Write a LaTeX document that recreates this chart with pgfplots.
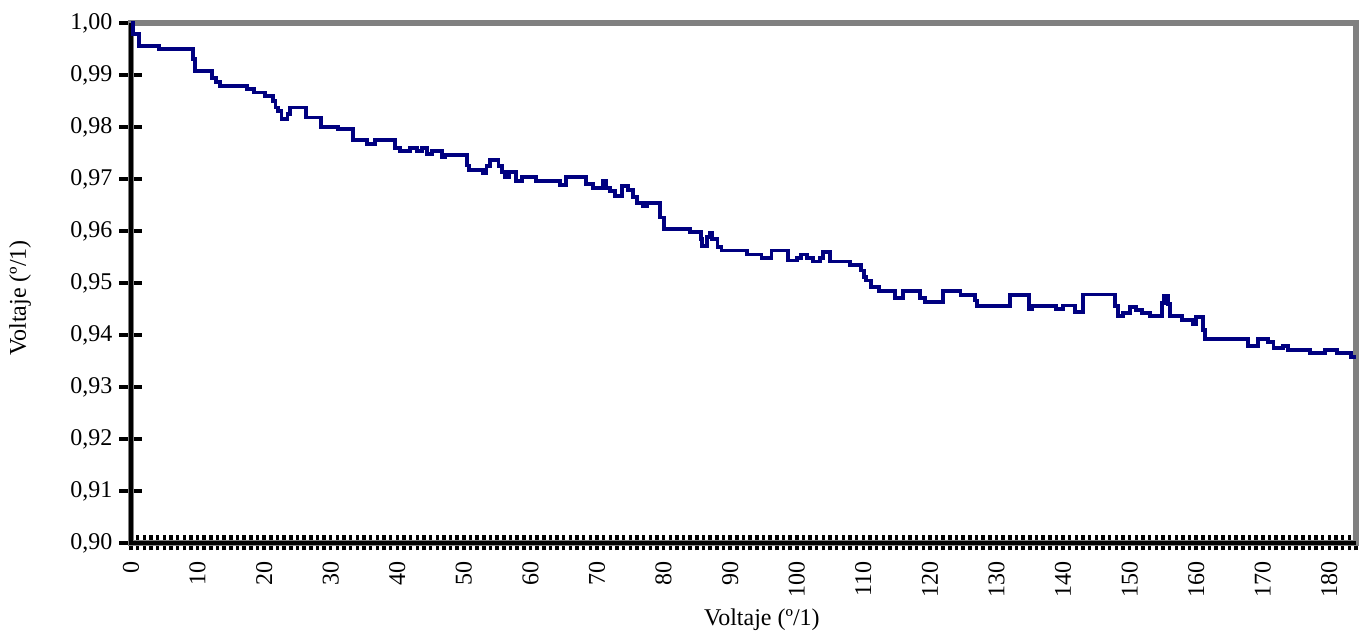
\documentclass[border=0pt]{standalone}
\usepackage{fontspec}
\setmainfont{Liberation Serif}
\usepackage{pgfplots}
\pgfplotsset{compat=1.18}
\definecolor{navyline}{RGB}{0,0,128}
\definecolor{bordergray}{RGB}{128,128,128}
\begin{document}
\begin{tikzpicture}
\begin{axis}[
  scale only axis,
  width=612.5pt, height=260pt,
  xmin=0, xmax=184, ymin=0.90, ymax=1.00,
  clip=false,
  axis line style={draw=none},
  xtick pos=bottom, ytick pos=left,
  xtick={0,10,...,180},
  minor xtick={0,1,...,184},
  ytick={0.90,0.91,0.92,0.93,0.94,0.95,0.96,0.97,0.98,0.99,1.00},
  tick align=center,
  major tick length=11.5pt, minor tick length=7.5pt,
  every tick/.style={black, line width=1.7pt},
  xtick style={draw=none},
  minor x tick style={draw=black, line width=1.75pt},
  /pgf/number format/assume math mode=true,
  ticklabel style={font=\fontsize{12}{14}\selectfont},
  xticklabel style={rotate=90, anchor=east},
  yticklabel style={/pgf/number format/fixed, /pgf/number format/fixed zerofill,
    /pgf/number format/precision=2, /pgf/number format/use comma},
  xlabel={Voltaje (º/1)},
  ylabel={Voltaje (º/1)},
  label style={font=\fontsize{12}{14}\selectfont},
  xlabel style={at={(axis description cs:0.515,-0.148)}, anchor=center},
  ylabel style={at={(axis description cs:-0.0906,0.471)}, anchor=center},
]
\coordinate (sw) at (rel axis cs:0,0);
\coordinate (ne) at (rel axis cs:1,1);
\draw[bordergray, line width=3pt] (rel axis cs:0,0) rectangle (rel axis cs:1,1);
\draw[black, line width=1.6pt] (rel axis cs:0,1) -- (rel axis cs:0,0) -- (rel axis cs:1,0);
\addplot[const plot, navyline, line width=1.95pt, mark=none] coordinates {
(0,1.000) (0.35,0.9978) (1.25,0.9956) (4.25,0.99495) (9.3,0.9930) (9.6,0.9908)
(12.1,0.9894) (12.8,0.9887) (13.4,0.9879) (17.4,0.98727) (18.5,0.98663) (20.1,0.98599)
(21.3,0.9850) (21.7,0.98375) (22.1,0.9831) (22.6,0.98152) (23.5,0.98247) (23.9,0.98375)
(26.3,0.98183) (28.6,0.98004) (31.1,0.97960) (33.3,0.97748) (35.4,0.97671) (36.6,0.97748)
(39.7,0.97595) (40.4,0.9753) (41.9,0.97595) (42.9,0.9753) (43.7,0.97595) (44.4,0.9748)
(45.2,0.97543) (46.7,0.97415) (47.2,0.97460) (50.5,0.9726) (50.8,0.97178) (52.9,0.97115)
(53.4,0.97255) (53.9,0.97370) (55.2,0.97255) (55.7,0.97126) (56.2,0.97031) (56.8,0.97140)
(57.8,0.96967) (58.7,0.97031) (60.8,0.96967) (64.5,0.96891) (65.4,0.97031) (68.4,0.96903)
(69.4,0.96820) (70.9,0.96967) (71.3,0.96820) (71.9,0.96775) (72.7,0.96679) (73.7,0.96871)
(74.7,0.96788) (75.4,0.96647) (76.0,0.96539) (76.9,0.9648) (77.5,0.96539) (79.5,0.9626)
(80.0,0.96040) (83.9,0.95975) (85.6,0.95848) (85.8,0.95720) (86.5,0.9588) (87.0,0.9597)
(87.3,0.9584) (88.1,0.95687) (88.7,0.95624) (92.5,0.95547) (94.7,0.95476) (96.2,0.95624)
(98.7,0.95432) (100.0,0.95484) (100.7,0.95547) (101.5,0.95484) (102.5,0.95413) (103.5,0.95484)
(104.0,0.95591) (105.0,0.95413) (108.0,0.95349) (109.7,0.9524) (110.1,0.9511) (110.4,0.95048)
(111.1,0.94920) (112.3,0.94843) (114.7,0.94709) (116.0,0.94843) (118.5,0.9472) (119.3,0.94632)
(122.0,0.94843) (124.6,0.94773) (126.8,0.94664) (127.1,0.94562) (132.0,0.94773) (134.9,0.94505)
(135.4,0.94562) (139.0,0.94505) (140.0,0.94568) (141.8,0.94440) (143.0,0.94779) (147.8,0.9455)
(148.3,0.94357) (149.0,0.9442) (150.0,0.94535) (151.0,0.94485) (151.8,0.94420) (153.0,0.94357)
(154.8,0.9462) (155.2,0.9476) (155.8,0.9460) (156.1,0.94357) (157.8,0.94280) (159.5,0.94217)
(160.0,0.9434) (161.0,0.94088) (161.3,0.93929) (167.8,0.93781) (169.3,0.93929) (170.8,0.93864)
(171.6,0.93743) (173.1,0.93781) (173.8,0.93717) (177.1,0.93653) (179.3,0.93717) (181.1,0.93653)
(183.3,0.93576) (184,0.93576)
};
\end{axis}
\pgfresetboundingbox
\path ([shift={(-65.5pt,-46pt)}]sw) rectangle ([shift={(1.5pt,11.5pt)}]ne);
\end{tikzpicture}
\end{document}
